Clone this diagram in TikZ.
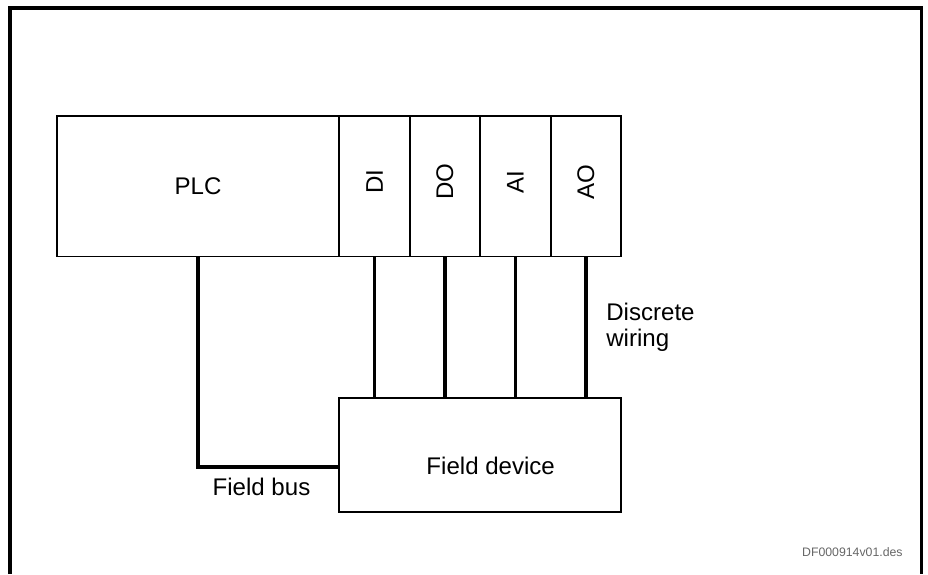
\documentclass[tikz,border=0pt]{standalone}
\usepackage{fontspec}
\setmainfont{Liberation Sans}
\usetikzlibrary{positioning,calc}

\begin{document}
\begin{tikzpicture}[
  x=0.02cm, y=-0.02cm,
  font=\fontsize{13.7}{14.8}\selectfont,
  block/.style={draw, line width=1.1pt, minimum width=5.65cm, minimum height=2.81cm, inner sep=0pt, outer sep=0pt},
  module/.style={block, minimum width=1.41cm},
  modlbl/.style={rotate=90, inner sep=0pt},
  wire/.style={line width=1.8pt},
  frame/.style={line width=1.8pt},
  note/.style={font=\fontsize{7}{8}\selectfont, text=black!60},
]
\useasboundingbox (0,0) rectangle (928,574);
\draw[frame] (10,574) |- (921.5,8) -- (921.5,574);
% controller with its I/O modules
\node[block] (plc) at (198,186.25) {PLC};
\node[module, right=0pt of plc] (di) {};
\node[module, right=0pt of di] (do) {};
\node[module, right=0pt of do] (ai) {};
\node[module, right=0pt of ai] (ao) {};
\foreach \m/\t in {di/DI,do/DO,ai/AI,ao/AO}
  \node[modlbl] (\m-lbl) at ([yshift=0.09cm]\m.center) {\t};
% field device
\node[block, minimum width=5.64cm, minimum height=2.28cm, anchor=north west] (fd) at ([yshift=-2.83cm]di.south west) {};
\node (fd-lbl) at ([xshift=0.21cm, yshift=-0.22cm]fd.center) {Field device};
% wiring
\foreach \m in {di,do,ai,ao}
  \draw[wire] (\m.south) -- (\m.south |- fd.north);
\draw[wire] (plc.south) |- ([yshift=-0.24cm]fd.west);
\node[anchor=west, align=left, inner sep=0pt] (dw) at (606,327.5) {Discrete\\wiring};
\node (fb) at (261.5,486.5) {Field bus};
\node[note, anchor=base east, inner sep=0pt] (ref) at (903,556) {DF000914v01.des};
\end{tikzpicture}
\end{document}
